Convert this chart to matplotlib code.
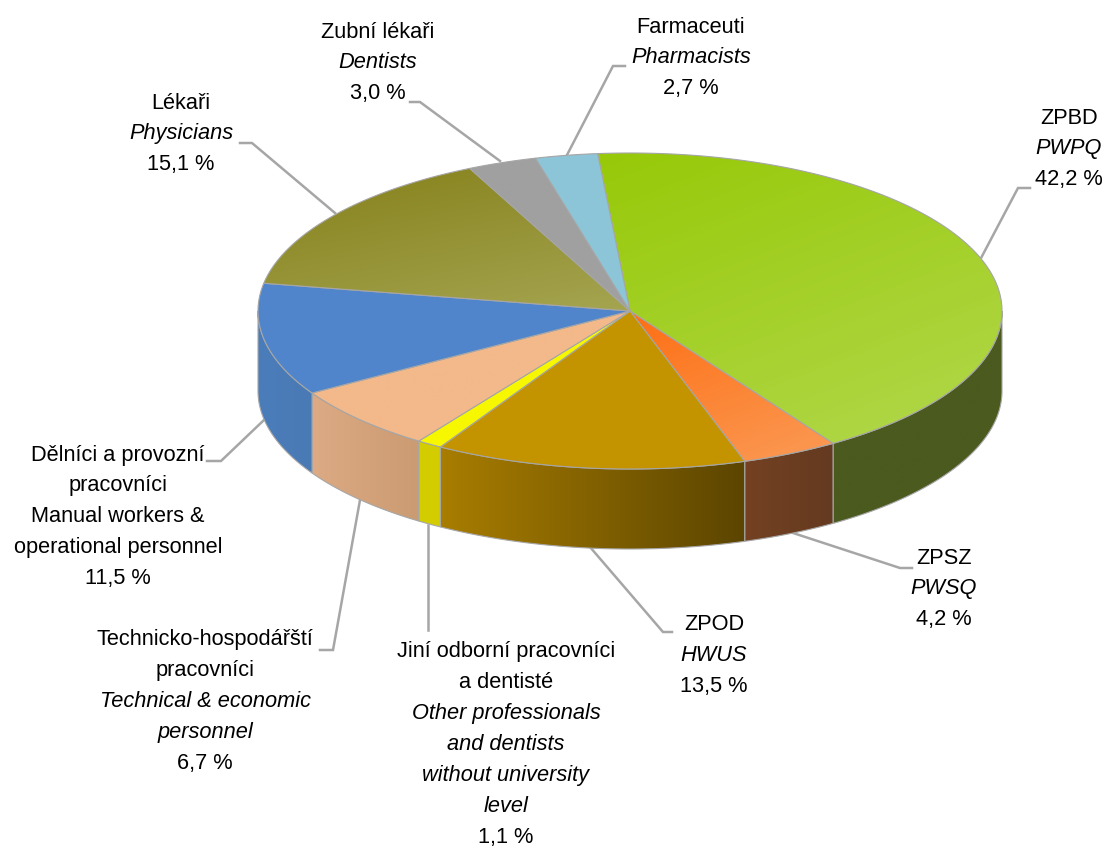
#3D style pie of staff categories, drawn with plain polygons and clipped gradients
import numpy as np
import matplotlib
matplotlib.use('Agg')
import matplotlib.pyplot as plt
from matplotlib.colors import to_rgb
from matplotlib.patches import Polygon

plt.rcParams['font.family'] = ['Liberation Sans', 'DejaVu Sans']

#Data, clockwise from the top
shares = [42.2, 4.2, 13.5, 1.1, 6.7, 11.5, 15.1, 3.0, 2.7]
share_text = ['42,2 %', '4,2 %', '13,5 %', '1,1 %', '6,7 %', '11,5 %', '15,1 %', '3,0 %', '2,7 %']
names_cz = [['ZPBD'], ['ZPSZ'], ['ZPOD'], ['Jiní odborní pracovníci', 'a dentisté'],
            ['Technicko-hospodářští', 'pracovníci'], ['Dělníci a provozní', 'pracovníci'],
            ['Lékaři'], ['Zubní lékaři'], ['Farmaceuti']]
names_en = [['PWPQ'], ['PWSQ'], ['HWUS'],
            ['Other professionals', 'and dentists', 'without university', 'level'],
            ['Technical & economic', 'personnel'], ['Manual workers &', 'operational personnel'],
            ['Physicians'], ['Dentists'], ['Pharmacists']]
en_italic = [True, True, True, True, True, False, True, True, True]

#Colours: top face start/end, side face start/end
top_from = ['#97c908', '#fd6f14', '#c49300', '#f7f700', '#f3b98a', '#5085cc', '#85801a', '#a0a0a0', '#8dc5d8']
top_to = ['#b2d84c', '#fb9a55', '#c49300', '#f7f700', '#f3b98a', '#5085cc', '#a5a551', '#a0a0a0', '#8dc5d8']
side_from = ['#4b5a1e', '#744122', '#a87d00', '#d3cd00', '#dcaa84', '#4a7dbb', '#4a7dbb', '#808080', '#808080']
side_to = ['#4b5a1e', '#643a20', '#5c4500', '#d3cd00', '#cb9b72', '#4a7ab4', '#4a7ab4', '#808080', '#808080']

#Layout in pixels
cx, cy, rx, ry, depth = 630, 311, 372, 158, 80
start_deg = 95
edge = '#a6a6a6'
fsize = 15.7
pitch = 30.9
label_x = [1069, 944, 714, 506, 205, 118, 181, 378, 691]
label_y = [118, 558, 625, 652, 640, 455, 103, 32, 27]
leaders = [[(980, 260), (1018, 188), (1030, 188)], [(790, 532), (900, 568), (912, 568)],
           [(590, 547), (663, 632), (672, 632)], [(428, 525), (428, 630)],
           [(360, 500), (333, 650), (320, 650)], [(264, 420), (221, 461), (207, 461)],
           [(335, 213), (252, 143), (240, 143)], [(500, 161), (420, 102), (410, 102)],
           [(567, 155), (613, 66), (625, 66)]]

fig = plt.figure(figsize=(11.04, 8.5), dpi=100)
ax = fig.add_axes([0, 0, 1, 1])


def arc(t0, t1, dy=0):
    t = np.radians(np.linspace(t0, t1, max(int(abs(t1 - t0) * 2), 2)))
    return np.column_stack((cx + rx * np.cos(t), cy + dy - ry * np.sin(t)))


def gradient_fill(pts, c0, c1, diagonal, z):
    x0, y0 = pts.min(axis=0)
    x1, y1 = pts.max(axis=0)
    u, v = np.meshgrid(np.linspace(0, 1, 120), np.linspace(0, 1, 120))
    f = (0.35 * u + 0.65 * v) if diagonal else u
    c0, c1 = np.array(to_rgb(c0)), np.array(to_rgb(c1))
    img = c0 + (c1 - c0) * f[..., None]
    im = ax.imshow(img, extent=(x0, x1, y1, y0), aspect='auto', zorder=z, interpolation='bilinear')
    im.set_clip_path(Polygon(pts, closed=True, transform=ax.transData))
    ax.add_patch(Polygon(pts, closed=True, fill=False, ec=edge, lw=0.8, zorder=z + 0.1))


#leader lines go behind the pie
for pts in leaders:
    xs, ys = zip(*pts)
    ax.plot(xs, ys, color=edge, lw=1.8, zorder=1, solid_joinstyle='miter')

bounds = start_deg - np.concatenate(([0], np.cumsum(shares))) * 3.6

#side wall, only the part of each slice on the front half
for i in range(len(shares)):
    t0 = min(bounds[i], 0)
    t1 = max(bounds[i + 1], -180)
    if t0 <= t1:
        continue
    upper = arc(t0, t1)
    lower = arc(t1, t0, depth)
    gradient_fill(np.vstack((upper, lower)), side_from[i], side_to[i], False, 2 + i * 0.2)

#top faces
for i in range(len(shares)):
    pts = np.vstack(([(cx, cy)], arc(bounds[i], bounds[i + 1])))
    gradient_fill(pts, top_from[i], top_to[i], True, 5 + i * 0.2)

#labels
for i in range(len(shares)):
    y = label_y[i]
    rows = [(s, 'normal') for s in names_cz[i]]
    rows += [(s, 'italic' if en_italic[i] else 'normal') for s in names_en[i]]
    rows += [(share_text[i], 'normal')]
    for s, style in rows:
        ax.text(label_x[i], y, s, ha='center', va='center', fontsize=fsize, style=style,
                color='black', zorder=10)
        y += pitch

ax.set_xlim(0, 1104)
ax.set_ylim(850, 0)
ax.axis('off')
fig.savefig('out.png', dpi=100, facecolor='white')
